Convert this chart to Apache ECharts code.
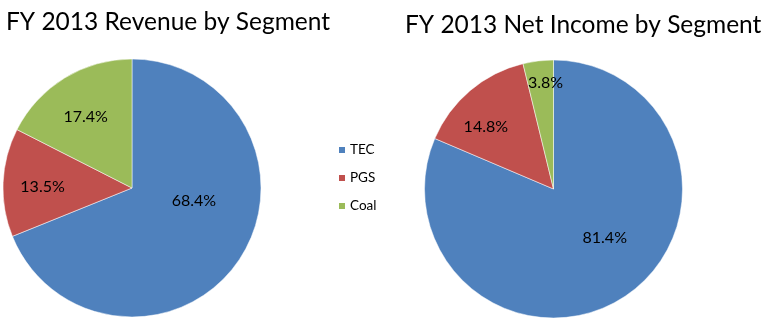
<!DOCTYPE html>
<html>
<head>
<meta charset="utf-8">
<script src="https://cdn.jsdelivr.net/npm/echarts@6/dist/echarts.min.js"></script>
<style>html,body{margin:0;padding:0;background:#fff}#c{width:780px;height:326px}</style>
</head>
<body>
<div id="c"></div>
<script>
var categories = ['TEC', 'PGS', 'Coal'];
var revenueShare = [68.4, 13.5, 17.4];
var netIncomeShare = [81.4, 14.8, 3.8];
var colors = ['#4F81BD', '#C0504D', '#9BBB59'];
var titles = ['FY 2013 Revenue by Segment', 'FY 2013 Net Income by Segment'];

var revOffsets = [[6, -25], [-22, 2], [-11, -14]];
var niOffsets = [[14, -7], [-24, -11], [0, -39]];

function buildData(vals, offs) {
  return categories.map(function (c, i) {
    return { name: c, value: vals[i], itemStyle: { color: colors[i] }, label: { offset: offs[i] } };
  });
}

var font = 'Lato';
var chart = echarts.init(document.getElementById('c'));
var labelCfg = {
  show: true, position: 'inside', color: '#000', fontFamily: font, fontSize: 16,
  formatter: function (p) { return p.value.toFixed(1) + '%'; }
};
chart.setOption({
  animation: false,
  title: [
    { text: titles[0], left: 6, top: 10, padding: 0, textStyle: { fontFamily: font, fontSize: 24.5, fontWeight: 'normal', color: '#000' } },
    { text: titles[1], left: 405, top: 13, padding: 0, textStyle: { fontFamily: font, fontSize: 24.5, fontWeight: 'normal', color: '#000' } }
  ],
  legend: {
    orient: 'vertical', left: 332, top: 138, itemWidth: 8, itemHeight: 8, itemGap: 14,
    icon: 'rect', data: categories,
    textStyle: { fontFamily: font, fontSize: 13.5, color: '#000', padding: [0, 0, 0, -1] }
  },
  series: [
    {
      type: 'pie', center: [132, 188], radius: 129, startAngle: 90, clockwise: true,
      itemStyle: { borderColor: '#fff', borderWidth: 0.5 },
      label: labelCfg, labelLine: { show: false }, emphasis: { disabled: true },
      data: buildData(revenueShare, revOffsets)
    },
    {
      type: 'pie', center: [553.5, 189], radius: 129, startAngle: 90, clockwise: true,
      itemStyle: { borderColor: '#fff', borderWidth: 0.5 },
      label: labelCfg, labelLine: { show: false }, emphasis: { disabled: true },
      data: buildData(netIncomeShare, niOffsets)
    }
  ]
});
</script>
</body>
</html>
